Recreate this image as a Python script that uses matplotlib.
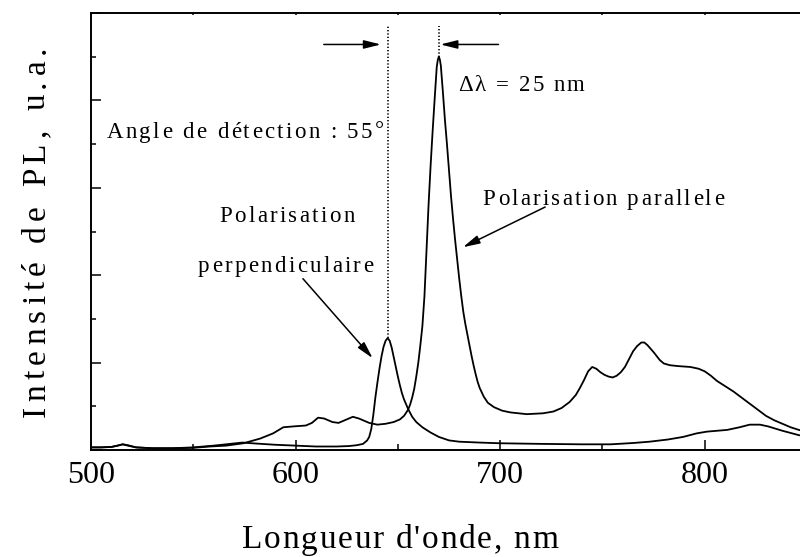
import matplotlib
matplotlib.use('Agg')
import matplotlib.pyplot as plt
from matplotlib.ticker import MultipleLocator, NullFormatter
from matplotlib.transforms import IdentityTransform

plt.rcParams['font.family'] = ['Liberation Serif', 'DejaVu Serif']

# spectre PL, polarisation parallele (u.a.)
wl_par = [500, 505, 510, 513, 515.5, 518, 522, 530, 540, 550, 558, 566, 574.5,
          582.6, 589, 594, 599, 605, 608, 611, 614, 618, 621, 625, 628, 631,
          636, 640, 644, 648, 651, 653, 655, 656, 657, 658, 659, 660, 661, 662,
          663, 664, 665, 666, 667, 668, 669, 669.5, 670, 670.5, 671, 672, 673,
          674, 675, 676, 677, 678, 679, 680, 681, 682, 683, 684, 685, 686, 687,
          688, 689, 690, 692, 694, 697, 701, 705, 713, 721, 726, 730, 734, 737,
          739, 741, 743, 745, 747, 749, 751, 753, 755, 757, 759, 761, 763, 765,
          767, 769, 770.5, 772, 775, 778, 780, 783, 787, 793, 797, 800, 803,
          806, 810, 814, 818, 822, 826, 830, 834, 838, 842, 846, 850]
pl_par = [0.03, 0.03, 0.035, 0.05, 0.065, 0.055, 0.03, 0.02, 0.02, 0.025, 0.04,
          0.05, 0.077, 0.13, 0.19, 0.26, 0.27, 0.28, 0.31, 0.37, 0.36, 0.32,
          0.31, 0.35, 0.38, 0.36, 0.31, 0.29, 0.30, 0.32, 0.35, 0.39, 0.46,
          0.52, 0.60, 0.70, 0.84, 1.00, 1.20, 1.42, 1.76, 2.28, 2.80, 3.25,
          3.65, 4.02, 4.38, 4.46, 4.50, 4.47, 4.40, 4.10, 3.78, 3.50, 3.20,
          2.90, 2.64, 2.40, 2.18, 1.96, 1.76, 1.58, 1.44, 1.32, 1.20, 1.08,
          0.97, 0.87, 0.78, 0.71, 0.61, 0.54, 0.49, 0.45, 0.43, 0.41, 0.42,
          0.44, 0.48, 0.55, 0.63, 0.71, 0.80, 0.90, 0.95, 0.93, 0.89, 0.86,
          0.84, 0.83, 0.85, 0.89, 0.95, 1.04, 1.13, 1.19, 1.23, 1.23, 1.20,
          1.12, 1.03, 0.99, 0.97, 0.96, 0.95, 0.93, 0.90, 0.85, 0.79, 0.73,
          0.67, 0.60, 0.53, 0.46, 0.39, 0.34, 0.30, 0.26, 0.23, 0.21]

# spectre PL, polarisation perpendiculaire (u.a.)
wl_perp = [500, 505, 510, 513, 515.5, 518, 522, 530, 540, 550, 560, 568, 574,
           580, 590, 600, 610, 620, 626, 630, 633, 635, 636, 637, 638, 639, 640,
           641, 642, 643, 644, 645, 646, 647, 648, 649, 650, 651, 652, 653, 655,
           657, 659, 662, 666, 670, 675, 680, 690, 700, 720, 740, 754, 765, 773,
           782, 789.5, 796, 801, 806, 811, 817, 822, 827, 831, 838, 846, 850]
pl_perp = [0.03, 0.03, 0.035, 0.05, 0.065, 0.05, 0.03, 0.02, 0.02, 0.03, 0.05,
           0.07, 0.085, 0.075, 0.06, 0.05, 0.04, 0.04, 0.045, 0.055, 0.07,
           0.11, 0.15, 0.24, 0.40, 0.60, 0.77, 0.93, 1.07, 1.18, 1.25, 1.28,
           1.25, 1.17, 1.06, 0.95, 0.84, 0.74, 0.65, 0.58, 0.47, 0.38, 0.32,
           0.26, 0.20, 0.15, 0.11, 0.095, 0.085, 0.077, 0.07, 0.065, 0.065,
           0.08, 0.095, 0.12, 0.15, 0.19, 0.21, 0.22, 0.23, 0.26, 0.29, 0.29,
           0.27, 0.22, 0.17, 0.15]

peak_perp = 645.0
peak_par = 670.0
angle = 55

W, H = 800, 557
fig = plt.figure(figsize=(W / 100, H / 100), dpi=100)
ax = fig.add_axes([91 / W, 107 / H, 716 / W, 437 / H])

ax.plot(wl_par, pl_par, color='k', lw=1.3)
ax.plot(wl_perp, pl_perp, color='k', lw=1.3)

ax.set_xlim(500, 850)
ax.set_ylim(0, 5)
ax.xaxis.set_major_locator(MultipleLocator(100))
ax.xaxis.set_minor_locator(MultipleLocator(50))
ax.yaxis.set_major_locator(MultipleLocator(1))
ax.yaxis.set_minor_locator(MultipleLocator(0.5))
ax.yaxis.set_major_formatter(NullFormatter())
ax.tick_params(axis='x', which='both', direction='in', top=True, labelsize=23,
               pad=8, width=1.1)
ax.tick_params(axis='x', which='major', length=7.2)
ax.tick_params(axis='x', which='minor', length=4.3)
ax.tick_params(axis='y', which='both', direction='in', width=1.1)
ax.tick_params(axis='y', which='major', length=7.2)
ax.tick_params(axis='y', which='minor', length=3.6)
for t in ax.xaxis.get_major_ticks() + ax.xaxis.get_minor_ticks():
    t.tick2line.set_markersize(1.5)
for s in ax.spines.values():
    s.set_linewidth(1.4)

# pics : traits pointilles et fleches du decalage
y_top = 4.85
pointille = (0, (0.8, 1.2))
ax.plot([peak_perp, peak_perp], [max(pl_perp), y_top], color='k', lw=1.2, ls=pointille)
ax.plot([peak_par, peak_par], [max(pl_par), y_top], color='k', lw=1.2, ls=pointille)
fl = dict(arrowstyle='-|>,head_length=0.6,head_width=0.15', mutation_scale=17,
          color='k', lw=1.1, shrinkA=0, shrinkB=0)
ax.annotate('', xy=(peak_perp - 3.3, 4.64), xytext=(peak_perp - 31.2, 4.64), arrowprops=fl)
ax.annotate('', xy=(peak_par + 0.8, 4.64), xytext=(peak_par + 29.2, 4.64), arrowprops=fl)
ax.annotate('', xy=(681.8, 2.32), xytext=(722, 2.78), arrowprops=fl)
ax.annotate('', xy=(637.7, 1.05), xytext=(603.6, 1.96), arrowprops=fl)

fig.canvas.draw()
rend = fig.canvas.get_renderer()


def largeur(t, taille):
    tt = fig.text(0, 0, t, fontsize=taille)
    w = tt.get_window_extent(rend).width
    tt.remove()
    return w


def texte_espace(s, xc, yb, larg, taille, rot=0):
    # texte espace lettre par lettre, centre en xc (ou yc si vertical), ligne de base yb
    ref = largeur('xx', taille)
    av = [largeur('x' + c + 'x', taille) - ref for c in s]
    ecart = (larg - sum(av)) / (len(s) - 1)
    pos = -larg / 2
    for c, a in zip(s, av):
        m = pos + a / 2
        if rot == 90:
            fig.text(yb, xc + m, c, fontsize=taille, rotation=90, rotation_mode='anchor',
                     ha='center', va='baseline', transform=IdentityTransform())
        else:
            fig.text(xc + m, yb, c, fontsize=taille, ha='center', va='baseline',
                     transform=IdentityTransform())
        pos += a + ecart


def texte_data(s, x, y, larg, taille=16.5):
    px, py = ax.transData.transform((x, y))
    texte_espace(s, px + larg / 2, py, larg, taille)


texte_data(f'Angle de détection : {angle}°', 507.6, 3.575, 277)
texte_data(f'Δλ = {peak_par - peak_perp:.0f} nm', 679.3, 4.11, 127)
texte_data('Polarisation parallele', 691.5, 2.80, 241)
texte_data('Polarisation', 562.8, 2.61, 135)
texte_data('perpendiculaire', 552.3, 2.04, 175)

texte_espace("Longueur d'onde, nm", 400, 8.5, 316, 24)
texte_espace('Intensité de PL, u.a.', H - 231.5, 45, 371, 24, rot=90)

fig.savefig('out.png', dpi=100)
